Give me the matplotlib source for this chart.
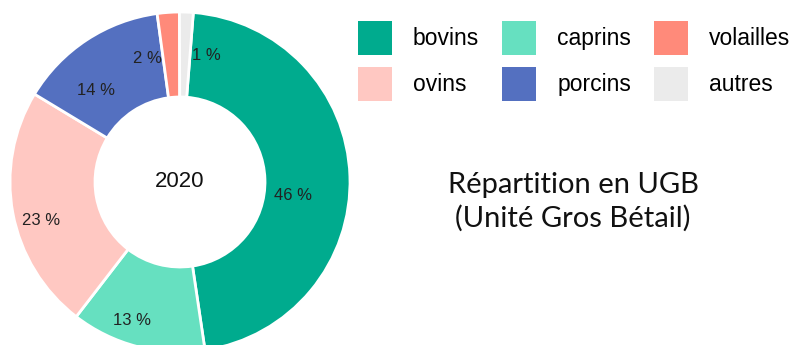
import numpy as np
import matplotlib.pyplot as plt
from matplotlib.patches import Patch

categories = ["bovins", "caprins", "ovins", "porcins", "volailles", "autres"]
shares = [46.4, 12.8, 23.2, 14.2, 2.1, 1.3]
colors = ["#00ab8e", "#66e0c0", "#ffc8c2", "#5470c0", "#ff8a7a", "#ebebeb"]
legend_order = ["bovins", "ovins", "caprins", "porcins", "volailles", "autres"]
year = "2020"
caption = "Répartition en UGB\n(Unité Gros Bétail)"

# label placement tweaks per slice (angle shift in deg, radius fraction)
label_shift = [9, 4.5, -5, -9.5, -11, 9.4]
label_radius = [0.67, 0.86, 0.85, 0.73, 0.75, 0.76]

plt.rcParams["font.family"] = ["Liberation Sans", "DejaVu Sans"]

fig = plt.figure(figsize=(7.95, 3.45), dpi=100)
ax = fig.add_axes([10 / 795, -7 / 345, 340 / 795, 340 / 345])

wedges, texts, autotexts = ax.pie(
    shares, colors=colors, startangle=85.5, counterclock=False,
    radius=1.0, autopct=lambda p: "%.0f %%" % p, pctdistance=0.76,
    wedgeprops=dict(width=0.5, edgecolor="white", linewidth=2),
    textprops=dict(fontsize=12, color="#222222"))

for w, t, d, r in zip(wedges, autotexts, label_shift, label_radius):
    mid = np.deg2rad((w.theta1 + w.theta2) / 2 - d)
    t.set_position((r * np.cos(mid), r * np.sin(mid)))

ax.set_xlim(-1, 1)
ax.set_ylim(-1, 1)
ax.set_aspect("equal")
ax.text(0, 0, year, ha="center", va="center", fontsize=16, color="#111111")

color_of = dict(zip(categories, colors))
handles = [Patch(facecolor=color_of[c], edgecolor="none", label=c) for c in legend_order]
fig.legend(handles=handles, loc="upper left", bbox_to_anchor=(358 / 795, 1 - 21 / 345),
           ncol=3, frameon=False, fontsize=16.5, borderpad=0, borderaxespad=0,
           handlelength=1.48, handleheight=1.91, handletextpad=0.92,
           labelspacing=0.52, columnspacing=1.0)

fig.text(573 / 795, 1 - 202 / 345, caption, ha="center", va="center",
         fontsize=21, family=["Lato", "DejaVu Sans"], linespacing=1.3, color="#111111")

fig.savefig("out.png", dpi=100)
